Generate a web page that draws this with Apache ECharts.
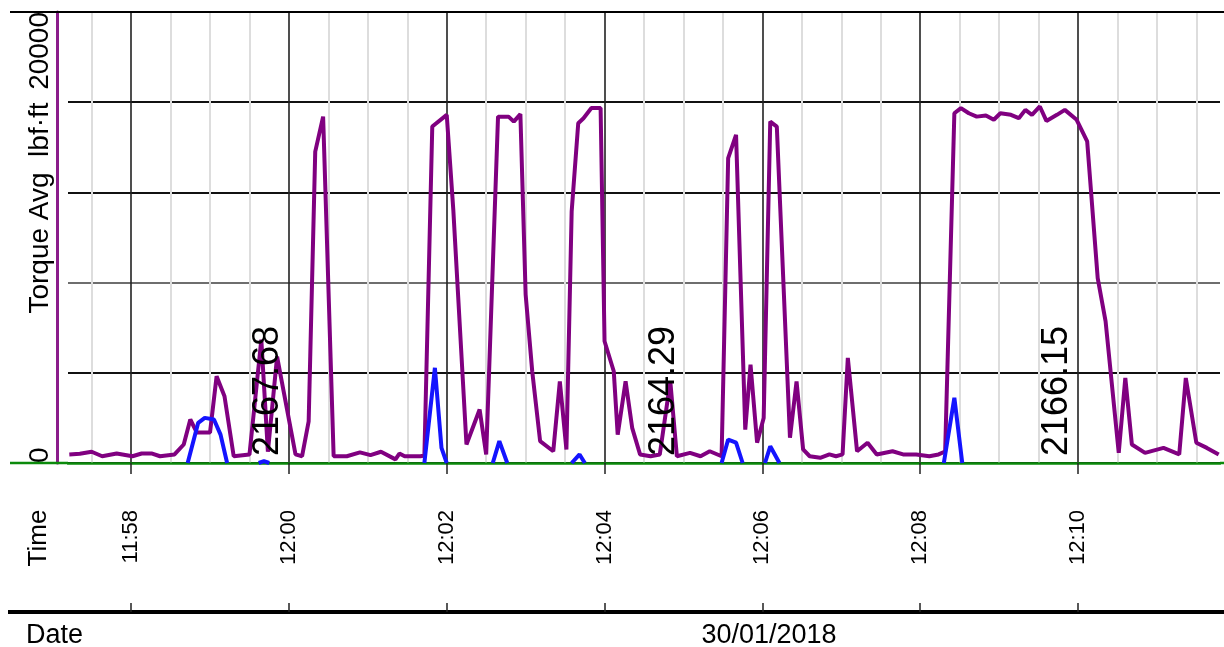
<!DOCTYPE html>
<html>
<head>
<meta charset="utf-8">
<script src="https://cdn.jsdelivr.net/npm/echarts@6/dist/echarts.min.js"></script>
<style>
  html, body { margin: 0; padding: 0; background: #fff; }
  #chart { width: 1224px; height: 647px; }
</style>
</head>
<body>
<div id="chart"></div>
<script>
// Drilling log strip: 30/01/2018, 11:57 - 12:12
const DAY = '2018-01-30';
const DATE_LABEL = '30/01/2018';

// Torque Avg (lbf·ft)
const torqueTimes = [
  '11:57:13','11:57:21','11:57:30','11:57:38','11:57:49','11:58:01','11:58:08','11:58:16','11:58:22','11:58:33',
  '11:58:40','11:58:45','11:58:50','11:59:00','11:59:05','11:59:11','11:59:18','11:59:30','11:59:39','11:59:44',
  '11:59:51','12:00:05','12:00:10','12:00:15','12:00:20','12:00:26','12:00:34','12:00:44','12:00:54','12:01:02',
  '12:01:10','12:01:21','12:01:24','12:01:28','12:01:40','12:01:43','12:01:49','12:02:00','12:02:05','12:02:15',
  '12:02:25','12:02:30','12:02:39','12:02:47','12:02:51','12:02:56','12:03:00','12:03:05','12:03:11','12:03:21',
  '12:03:26','12:03:31','12:03:35','12:03:40','12:03:44','12:03:50','12:03:57','12:04:00','12:04:07','12:04:10',
  '12:04:16','12:04:21','12:04:27','12:04:35','12:04:42','12:04:50','12:04:55','12:05:05','12:05:13','12:05:20',
  '12:05:29','12:05:34','12:05:40','12:05:47','12:05:51','12:05:56','12:06:01','12:06:06','12:06:11','12:06:21',
  '12:06:26','12:06:31','12:06:36','12:06:44','12:06:51','12:06:56','12:07:01','12:07:05','12:07:12','12:07:20',
  '12:07:27','12:07:39','12:07:47','12:07:57','12:08:07','12:08:14','12:08:19','12:08:26','12:08:31','12:08:37',
  '12:08:43','12:08:50','12:08:56','12:09:01','12:09:09','12:09:15','12:09:20','12:09:25','12:09:31','12:09:36',
  '12:09:44','12:09:50','12:09:59','12:10:07','12:10:15','12:10:21','12:10:31','12:10:36','12:10:41','12:10:51',
  '12:11:05','12:11:17','12:11:22','12:11:30','12:11:38','12:11:47'
];
const torqueValues = [
  380, 410, 500, 300, 420, 300, 420, 420, 300, 380,
  820, 1930, 1350, 1350, 3850, 2960, 300, 380, 5470, 500,
  4720, 380, 300, 1850, 13810, 15360, 300, 300, 470, 350,
  500, 160, 420, 300, 300, 330, 14920, 15440, 11230, 820,
  2370, 380, 15360, 15360, 15140, 15470, 7470, 4070, 970, 520,
  3620, 600, 11160, 15070, 15290, 15740, 15740, 5400, 4070, 1260,
  3620, 1560, 380, 300, 380, 3620, 300, 450, 300, 520,
  300, 13520, 14550, 1480, 4360, 900, 2000, 15140, 14920, 1120,
  3620, 600, 300, 230, 380, 300, 380, 4660, 520, 900,
  380, 520, 380, 380, 300, 380, 510, 15510, 15740, 15510,
  15360, 15410, 15220, 15510, 15440, 15290, 15660, 15440, 15810, 15170,
  15440, 15660, 15220, 14260, 8200, 6280, 450, 3770, 820, 450,
  670, 380, 3770, 900, 670, 380
];

// Secondary torque trace (blue); null separates the bursts
const auxTimes = [
  '11:58:43','11:58:51','11:58:56','11:59:03','11:59:08','11:59:13', null,
  '11:59:37','11:59:41','11:59:45', null,
  '12:01:43','12:01:51','12:01:56','12:02:00', null,
  '12:02:35','12:02:40','12:02:46', null,
  '12:03:35','12:03:41','12:03:45', null,
  '12:05:29','12:05:34','12:05:40','12:05:45', null,
  '12:06:02','12:06:06','12:06:13', null,
  '12:08:18','12:08:26','12:08:32'
];
const auxValues = [
  0, 1780, 2000, 1930, 1260, 0, null,
  0, 80, 0, null,
  0, 4220, 670, 0, null,
  0, 970, 0, null,
  0, 380, 0, null,
  0, 1040, 900, 0, null,
  0, 740, 0, null,
  0, 2890, 0
];

// Bit depth markers
const depthTimes = ['11:59:44', '12:04:45', '12:09:44'];
const depthValues = [2167.68, 2164.29, 2166.15];

// Axis ticks
const majorTicks = ['11:58', '12:00', '12:02', '12:04', '12:06', '12:08', '12:10'];
const minorTicks = [
  '11:57:30','11:58:30','11:59:00','11:59:30','12:00:30','12:01:00','12:01:30','12:02:30',
  '12:03:00','12:03:30','12:04:30','12:05:00','12:05:30','12:06:30','12:07:00','12:07:30',
  '12:08:30','12:09:00','12:09:30','12:10:30','12:11:00','12:11:30'
];
const xStart = '11:57:12';
const xEnd = '12:11:48';
const yTicks = [0, 20000];

const FONT = '"Liberation Sans", Arial, Helvetica, sans-serif';
const toMs = t => new Date(DAY + 'T' + (t.length === 5 ? t + ':00' : t)).getTime();
const pad = n => (n < 10 ? '0' : '') + n;
const hhmm = v => { const d = new Date(v); return pad(d.getHours()) + ':' + pad(d.getMinutes()); };

const majorMs = majorTicks.map(toMs);
const minorMs = minorTicks.map(toMs);
const xMin = toMs(xStart), xMax = toMs(xEnd);

const chart = echarts.init(document.getElementById('chart'), null, { renderer: 'canvas' });

const option = {
  animation: false,
  backgroundColor: '#fff',
  grid: { left: 68, right: 4, top: 12, bottom: 184, containLabel: false },
  xAxis: [
    {
      type: 'value', position: 'bottom', min: xMin, max: xMax, z: 1,
      axisLine: { show: true, onZero: false, lineStyle: { color: '#0b8a0b', width: 2.5 } },
      axisTick: { show: true, length: 11, customValues: majorMs, lineStyle: { color: '#222', width: 1.5 } },
      axisLabel: {
        show: true, customValues: majorMs, rotate: 90, margin: 47,
        fontSize: 22, color: '#000', fontFamily: FONT, formatter: v => hhmm(v)
      },
      splitLine: { show: true, lineStyle: { color: '#222', width: 1.6 } }
    },
    {
      type: 'value', position: 'bottom', min: xMin, max: xMax, z: 0,
      axisLine: { show: false },
      axisTick: { show: false, customValues: minorMs },
      axisLabel: { show: false, customValues: minorMs },
      splitLine: { show: true, lineStyle: { color: '#dddddd', width: 2 } }
    },
    {
      type: 'value', position: 'bottom', offset: 149, min: xMin, max: xMax, z: 1,
      axisLine: { show: true, onZero: false, lineStyle: { color: '#000', width: 4 } },
      axisTick: { show: true, inside: true, length: 9, customValues: majorMs, lineStyle: { color: '#222', width: 1.5 } },
      axisLabel: { show: false, customValues: majorMs },
      splitLine: { show: false }
    }
  ],
  yAxis: {
    type: 'value', min: 0, max: 20000, interval: 4000, offset: 11,
    axisLine: { show: true, lineStyle: { color: '#8b1c8b', width: 3 } },
    axisTick: { show: false },
    splitLine: {
      show: true,
      lineStyle: { color: ['#111', '#111', '#6e6e6e', '#111', '#111', '#111'], width: 2 }
    },
    axisLabel: {
      show: true, rotate: 90, margin: 3, fontSize: 28, color: '#000', fontFamily: FONT,
      alignMinLabel: 'left', alignMaxLabel: 'right',
      formatter: v => (yTicks.indexOf(v) >= 0 ? String(v) : '')
    }
  },
  series: [
    {
      name: 'Torque Avg', type: 'line', symbol: 'none', showSymbol: false, z: 2,
      data: torqueTimes.map((t, i) => [toMs(t), torqueValues[i]]),
      lineStyle: { color: '#800080', width: 4 }, itemStyle: { color: '#800080' }
    },
    {
      name: 'Torque aux', type: 'line', symbol: 'none', showSymbol: false, z: 3, connectNulls: false,
      data: auxTimes.map((t, i) => (t === null ? ['-', '-'] : [toMs(t), auxValues[i]])),
      lineStyle: { color: '#1414ff', width: 4 }, itemStyle: { color: '#1414ff' }
    },
    {
      name: 'Depth', type: 'scatter', symbolSize: 0, z: 5,
      itemStyle: { color: '#000', opacity: 1 },
      data: depthTimes.map((t, i) => [toMs(t), 0, depthValues[i]]),
      label: {
        show: true, position: 'top', distance: 7, rotate: 90, align: 'left', verticalAlign: 'middle',
        fontSize: 36, color: '#000', opacity: 1, fontFamily: FONT,
        formatter: p => p.value[2].toFixed(2)
      }
    }
  ],
  graphic: [
    { type: 'line', z: 10, shape: { x1: 10, y1: 12, x2: 1224, y2: 12 }, style: { stroke: '#000', lineWidth: 2 } },
    { type: 'line', z: 10, shape: { x1: 10, y1: 463, x2: 68, y2: 463 }, style: { stroke: '#0b8a0b', lineWidth: 2.5 } },
    { type: 'line', z: 10, shape: { x1: 1220, y1: 463, x2: 1224, y2: 463 }, style: { stroke: '#0b8a0b', lineWidth: 2.5 } },
    { type: 'line', z: 10, shape: { x1: 8, y1: 612, x2: 68, y2: 612 }, style: { stroke: '#000', lineWidth: 4 } },
    { type: 'line', z: 10, shape: { x1: 1220, y1: 612, x2: 1224, y2: 612 }, style: { stroke: '#000', lineWidth: 4 } },
    {
      type: 'text', x: 40, y: 208, rotation: Math.PI / 2,
      style: { text: 'Torque Avg  lbf·ft', font: '28px ' + FONT, fill: '#000', align: 'center', verticalAlign: 'middle' }
    },
    {
      type: 'text', x: 39, y: 538, rotation: Math.PI / 2,
      style: { text: 'Time', font: '26px ' + FONT, fill: '#000', align: 'center', verticalAlign: 'middle' }
    },
    {
      type: 'text', x: 26, y: 636,
      style: { text: 'Date', font: '27px ' + FONT, fill: '#000', align: 'left', verticalAlign: 'middle' }
    },
    {
      type: 'text', x: 769, y: 636,
      style: { text: DATE_LABEL, font: '27px ' + FONT, fill: '#000', align: 'center', verticalAlign: 'middle' }
    }
  ]
};

chart.setOption(option);
</script>
</body>
</html>
